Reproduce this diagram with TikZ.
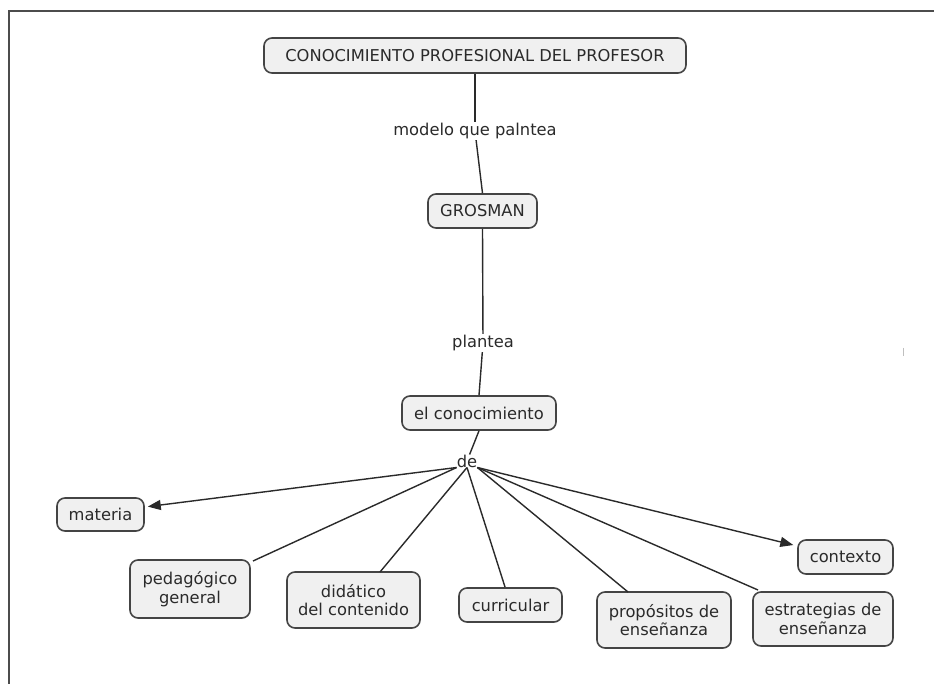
\documentclass[tikz,border=0pt]{standalone}
\usepackage{fontspec}
\setmainfont{DejaVu Sans}
\usetikzlibrary{arrows.meta}
\definecolor{boxfill}{HTML}{F0F0F0}
\definecolor{boxline}{HTML}{444444}
\definecolor{txt}{HTML}{2A2A2A}
\begin{document}
\begin{tikzpicture}[x=1pt,y=-1pt,
  concept/.style={draw=boxline,line width=1.6pt,fill=boxfill,rounded corners=8pt,
    align=center,font=\fontsize{16.3}{18.5}\selectfont,text=txt,inner sep=0pt},
  linklabel/.style={fill=white,inner sep=1pt,font=\fontsize{16.3}{18.5}\selectfont,text=txt},
  conn/.style={draw=txt,line width=1.4pt},
  arr/.style={conn,-{Triangle[length=13pt,width=10pt]}}
]
\useasboundingbox (0,0) rectangle (934,684);
\fill[white] (0,0) rectangle (934,684);
\draw[draw=black!70,line width=1.4pt] (9,684) -- (9,11) -- (934,11);
\draw[draw=black!25,line width=1pt] (903,348) -- (903,356);

\node[concept,minimum width=422pt,minimum height=35pt] (top) at (475,55.5) {CONOCIMIENTO PROFESIONAL DEL PROFESOR};
\node[linklabel] (l1) at (475,131) {modelo que palntea};
\node[concept,minimum width=109pt,minimum height=34pt] (gros) at (482.5,211) {GROSMAN};
\node[linklabel] (l2) at (483,343) {plantea};
\node[concept,minimum width=154pt,minimum height=34pt] (cono) at (479,413) {el conocimiento};
\node[linklabel,inner sep=0pt] (de) at (467,461) {de};

\node[concept,minimum width=87pt,minimum height=33pt] (mat) at (100.5,514.5) {materia};
\node[concept,minimum width=120pt,minimum height=58pt] (ped) at (190,589) {pedagógico\\general};
\node[concept,minimum width=133pt,minimum height=56pt] (did) at (353.5,600) {didático\\del contenido};
\node[concept,minimum width=103pt,minimum height=34pt] (cur) at (510.5,605) {curricular};
\node[concept,minimum width=134pt,minimum height=56pt] (pro) at (664,620) {propósitos de\\enseñanza};
\node[concept,minimum width=140pt,minimum height=54pt] (est) at (823,619) {estrategias de\\enseñanza};
\node[concept,minimum width=95pt,minimum height=34pt] (ctx) at (845.5,557) {contexto};

\draw[conn] (top.south) -- (l1);
\draw[conn] (l1) -- (gros.north);
\draw[conn] (gros.south) -- (l2);
\draw[conn] (l2) -- (cono.north);
\draw[conn] (cono.south) -- (de);

\draw[arr,shorten >=3pt] (de.south west) -- (mat.east |- 0,507);
\draw[conn] (de.south west) -- (253,561);
\draw[conn] (de.south) -- (380,572);
\draw[conn] (de.south) -- (505,587);
\draw[conn] (de.south east) -- (628,592);
\draw[conn] (de.south east) -- (758,590);
\draw[arr,shorten >=4pt] (de.south east) -- (ctx.west |- 0,546);
\end{tikzpicture}
\end{document}
